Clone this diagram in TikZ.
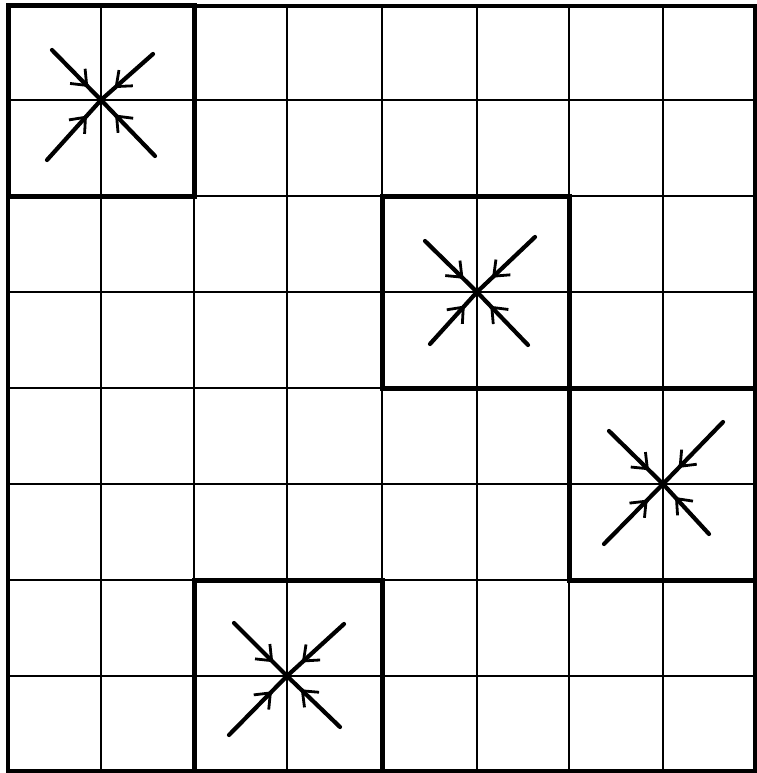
\documentclass[tikz,border=0pt]{standalone}
\usetikzlibrary{arrows.meta,decorations.markings}
\tikzset{
  gridline/.style={line width=2.4pt},
  boldbox/.style={line width=5pt},
  arm/.style={line width=4.2pt, line cap=round, postaction={decorate},
    decoration={markings, mark=at position 0.74 with {\arrow{Straight Barb[length=13pt,width=21pt,line width=2.8pt]}}}}
}
\begin{document}
\begin{tikzpicture}[x=1pt,y=-1pt]
\useasboundingbox (0,0) rectangle (756,773);
\fill[white] (0,0) rectangle (756,773);
% grid
\foreach \x in {101,194,287,382,477,569,663} \draw[gridline] (\x,6) -- (\x,771);
\foreach \y in {100,196,292,388,484,580,676} \draw[gridline] (8,\y) -- (755,\y);
\draw[line width=3.4pt] (8,6) rectangle (755,771);
% bold 2x2 boxes
\draw[boldbox] (8,6) rectangle (194,196);
\draw[boldbox] (382,196) rectangle (569,388);
\draw[boldbox] (569,388) rectangle (755,580);
\draw[boldbox] (194,580) rectangle (382,771);
% centres
\coordinate (c1) at (101,100);
\coordinate (c2) at (477,292);
\coordinate (c3) at (663,484);
\coordinate (c4) at (287,676);
% converging arms
\draw[arm] ([shift={(-49,-50)}]c1) -- (c1);
\draw[arm] ([shift={(52,-46)}]c1) -- (c1);
\draw[arm] ([shift={(-54,60)}]c1) -- (c1);
\draw[arm] ([shift={(54,56)}]c1) -- (c1);
\draw[arm] ([shift={(-52,-51)}]c2) -- (c2);
\draw[arm] ([shift={(58,-55)}]c2) -- (c2);
\draw[arm] ([shift={(-47,52)}]c2) -- (c2);
\draw[arm] ([shift={(51,53)}]c2) -- (c2);
\draw[arm] ([shift={(-54,-53)}]c3) -- (c3);
\draw[arm] ([shift={(60,-62)}]c3) -- (c3);
\draw[arm] ([shift={(-59,60)}]c3) -- (c3);
\draw[arm] ([shift={(46,50)}]c3) -- (c3);
\draw[arm] ([shift={(-53,-53)}]c4) -- (c4);
\draw[arm] ([shift={(57,-52)}]c4) -- (c4);
\draw[arm] ([shift={(-58,59)}]c4) -- (c4);
\draw[arm] ([shift={(53,51)}]c4) -- (c4);
\end{tikzpicture}
\end{document}
